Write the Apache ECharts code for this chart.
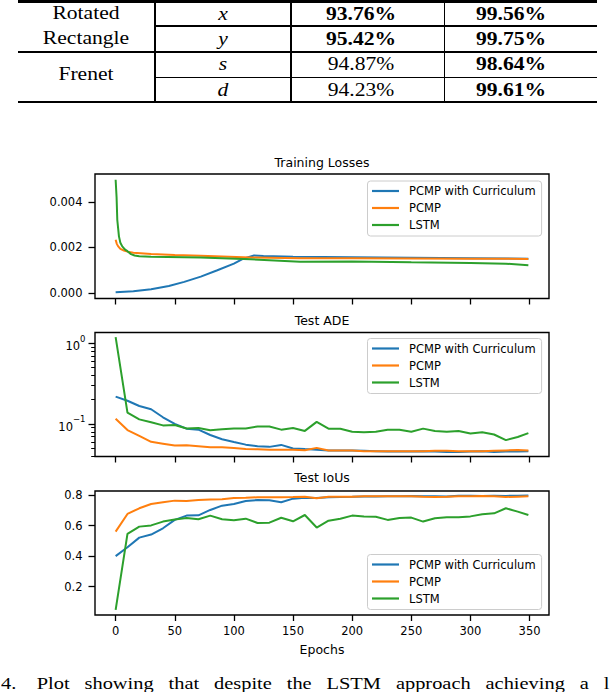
<!DOCTYPE html>
<html>
<head>
<meta charset="utf-8">
<script src="https://cdn.jsdelivr.net/npm/echarts@6/dist/echarts.min.js"></script>
<style>
html,body{margin:0;padding:0;background:#fff;}
#wrap{position:relative;width:610px;height:692px;overflow:hidden;background:#fff;}
#chart{position:absolute;left:0;top:0;width:610px;height:692px;}
#overlay{position:absolute;left:0;top:0;width:610px;height:692px;pointer-events:none;}
.ln{position:absolute;background:#000;}
.t{position:absolute;font-family:'Liberation Serif',serif;font-size:18px;line-height:18px;white-space:nowrap;transform:translateX(-50%) scaleX(1.2);transform-origin:50% 50%;color:#000;}
.b{font-weight:bold;}
.i{font-style:italic;}
#cap{position:absolute;left:1px;top:675px;width:507px;font-family:'Liberation Serif',serif;font-size:17px;line-height:17px;text-align:justify;text-align-last:justify;color:#000;transform:scaleX(1.2);transform-origin:0 50%;}
</style>
</head>
<body>
<div id="wrap">
  <div id="chart"></div>
  <div id="overlay"></div>
</div>
<script>
// ---------------- DATA ----------------
// Table (top of the page)
const tableGroups = [['Rotated', 'Rectangle'], ['Frenet']];
const tableAxes = ['x', 'y', 's', 'd'];
const tableColA = ['93.76%', '95.42%', '94.87%', '94.23%'];
const tableColABold = [true, true, false, false];
const tableColB = ['99.56%', '99.75%', '98.64%', '99.61%'];
const tableColBBold = [true, true, true, true];
const captionText = '4.\u2003Plot showing that despite the LSTM approach achieving a l';

// Chart
const seriesNames = ['PCMP with Curriculum', 'PCMP', 'LSTM'];
const seriesColors = ['#1f77b4', '#ff7f0e', '#2ca02c'];
const panelTitles = ['Training Losses', 'Test ADE', 'Test IoUs'];
const xAxisName = 'Epochs';
const xTicks = [0, 50, 100, 150, 200, 250, 300, 350];
const lossTicks = [0, 0.002, 0.004];
const adeMajorTicks = [0.1, 1];
const adeMinorTicks = [0.04, 0.05, 0.06, 0.07, 0.08, 0.09, 0.2, 0.3, 0.4, 0.5, 0.6, 0.7, 0.8, 0.9];
const iouTicks = [0.2, 0.4, 0.6, 0.8];

// Training losses: [epoch, loss]
const lossCurriculum = [[0,0.00002],[15,0.00007],[30,0.00016],[45,0.0003],[58,0.00048],[72,0.00071],[86,0.00099],[100,0.00128],[108,0.0015],[117,0.00164],[125,0.00162],[150,0.00158],[200,0.00156],[250,0.00154],[300,0.00152],[349,0.0015]];
const lossPCMP = [[0,0.00233],[1,0.00215],[2,0.00205],[4,0.00193],[7,0.00186],[10,0.00181],[15,0.00176],[30,0.0017],[50,0.00166],[72,0.00163],[114,0.00155],[156,0.00152],[200,0.00152],[250,0.00151],[300,0.0015],[349,0.00149]];
const lossLSTM = [[0,0.00497],[0.8,0.0042],[1.4,0.0032],[2.8,0.00248],[4,0.0022],[5.6,0.00204],[8,0.0019],[10,0.00183],[13,0.0017],[16,0.00164],[20,0.00161],[30,0.00158],[72,0.00155],[114,0.00147],[156,0.00137],[200,0.00138],[250,0.00134],[300,0.00131],[330,0.00128],[349,0.00121]];

// Test evaluations
const testEpochs = [0,10,20,30,40,50,60,70,80,90,100,110,120,130,140,150,160,170,180,190,200,210,220,230,240,250,260,270,280,290,300,310,320,330,340,349];
const adeCurriculum = [0.218,0.194,0.167,0.152,0.121,0.100,0.0875,0.085,0.073,0.0646,0.0598,0.0554,0.053,0.052,0.055,0.0497,0.0488,0.048,0.047,0.047,0.047,0.0465,0.046,0.0455,0.0455,0.0455,0.046,0.0455,0.045,0.045,0.0455,0.046,0.045,0.0455,0.0455,0.046];
const adePCMP = [0.116,0.084,0.071,0.060,0.057,0.054,0.0543,0.053,0.0514,0.0514,0.0504,0.049,0.0486,0.048,0.048,0.048,0.0472,0.0505,0.047,0.047,0.047,0.046,0.046,0.046,0.046,0.046,0.046,0.0465,0.0465,0.046,0.046,0.046,0.0465,0.047,0.0475,0.047];
const adeLSTM = [1.19,0.138,0.114,0.105,0.096,0.097,0.088,0.089,0.0835,0.086,0.088,0.088,0.093,0.093,0.085,0.089,0.082,0.106,0.0875,0.087,0.080,0.079,0.080,0.085,0.085,0.080,0.0875,0.082,0.080,0.082,0.076,0.079,0.074,0.063,0.069,0.077];
const iouCurriculum = [0.40,0.458,0.521,0.541,0.582,0.637,0.665,0.667,0.702,0.730,0.741,0.761,0.767,0.766,0.752,0.776,0.782,0.780,0.785,0.787,0.788,0.790,0.790,0.791,0.792,0.793,0.792,0.792,0.790,0.795,0.795,0.794,0.795,0.794,0.795,0.796];
const iouPCMP = [0.56,0.676,0.713,0.741,0.752,0.763,0.761,0.767,0.771,0.772,0.780,0.782,0.785,0.785,0.785,0.786,0.789,0.778,0.789,0.788,0.788,0.791,0.791,0.791,0.791,0.792,0.788,0.786,0.788,0.791,0.792,0.793,0.791,0.787,0.789,0.791];
const iouLSTM = [0.048,0.545,0.593,0.601,0.626,0.639,0.650,0.641,0.665,0.641,0.635,0.645,0.617,0.619,0.651,0.628,0.669,0.587,0.632,0.645,0.665,0.660,0.658,0.637,0.650,0.652,0.626,0.648,0.654,0.654,0.660,0.674,0.680,0.713,0.691,0.669];

// ---------------- TABLE + CAPTION (HTML text) ----------------
const ov = document.getElementById('overlay');
function line(l, t, w, h) {
  const d = document.createElement('div');
  d.className = 'ln';
  d.style.left = l + 'px'; d.style.top = t + 'px';
  d.style.width = w + 'px'; d.style.height = h + 'px';
  ov.appendChild(d);
}
function txt(s, cx, baseline, cls) {
  const d = document.createElement('div');
  d.className = 't ' + (cls || '');
  d.textContent = s;
  d.style.left = cx + 'px';
  d.style.top = (baseline - 15.1) + 'px';
  ov.appendChild(d);
}
// rules
line(18, 0, 579, 3);
line(155, 25.4, 442, 1.3);
line(18, 50.5, 579, 2.6);
line(155, 76.7, 442, 1.3);
line(18, 100.5, 579, 2.6);
line(154.4, 0, 1.3, 102);
line(289.5, 0, 2.6, 102);
line(444, 0, 1.3, 102);
// cells
const rowBase = [19.6, 44.8, 70.2, 95.6];
txt(tableGroups[0][0], 86, 19.4);
txt(tableGroups[0][1], 86, 44.4);
txt(tableGroups[1][0], 86, 80.5);
tableAxes.forEach((a, i) => txt(a, 223, rowBase[i], 'i'));
tableColA.forEach((v, i) => txt(v, 361, rowBase[i], tableColABold[i] ? 'b' : ''));
tableColB.forEach((v, i) => txt(v, 511, rowBase[i], tableColBBold[i] ? 'b' : ''));
const cap = document.createElement('div');
cap.id = 'cap';
cap.textContent = captionText;
ov.appendChild(cap);

// ---------------- CHART ----------------
const FONT = 'DejaVu Sans';
const chart = echarts.init(document.getElementById('chart'), null, {renderer: 'svg', width: 610, height: 692});

const gridBase = {left: 95, width: 454, show: true, borderColor: '#000', borderWidth: 1.4,
  backgroundColor: 'transparent', containLabel: false, outerBoundsMode: 'none'};
const grids = [
  Object.assign({top: 174, height: 124.5}, gridBase),
  Object.assign({top: 332.5, height: 124}, gridBase),
  Object.assign({top: 491, height: 124}, gridBase)
];

const tickLine = {color: '#000', width: 1.3};
const labelStyle = {fontFamily: FONT, fontSize: 11.5, color: '#000'};

const xAxes = [0, 1, 2].map(i => ({
  gridIndex: i, type: 'value', position: 'bottom', min: -17.45, max: 366.45,
  axisLine: {show: false, onZero: false},
  splitLine: {show: false},
  axisTick: {show: true, length: 6, customValues: xTicks, lineStyle: tickLine},
  axisLabel: Object.assign({show: i === 2, customValues: xTicks, margin: 10}, labelStyle)
}));

const yAxes = [
  {gridIndex: 0, type: 'value', position: 'left', min: -0.00025, max: 0.00522,
   axisLine: {show: false, onZero: false}, splitLine: {show: false},
   axisTick: {show: true, length: 6.5, customValues: lossTicks, lineStyle: tickLine},
   axisLabel: Object.assign({customValues: lossTicks, margin: 12.5, formatter: v => v.toFixed(3)}, labelStyle)},
  {gridIndex: 1, type: 'log', logBase: 10, position: 'left', min: 0.0395, max: 1.36,
   axisLine: {show: false, onZero: false}, splitLine: {show: false}, minorTick: {show: false},
   axisTick: {show: true, length: 6.5, customValues: adeMajorTicks, lineStyle: tickLine},
   axisLabel: Object.assign({customValues: adeMajorTicks, margin: 9.5,
     formatter: v => (v > 0.5 ? '{b|10}{s|0}' : '{b|10}{s|\u22121}'),
     rich: {
       b: {fontFamily: FONT, fontSize: 11.5, color: '#000', lineHeight: 18, verticalAlign: 'bottom'},
       s: {fontFamily: FONT, fontSize: 8.5, color: '#000', lineHeight: 8, verticalAlign: 'top'}
     }}, labelStyle)},
  {gridIndex: 1, type: 'log', logBase: 10, position: 'left', offset: 0, min: 0.0395, max: 1.36,
   axisLine: {show: false, onZero: false}, splitLine: {show: false}, minorTick: {show: false},
   axisTick: {show: true, length: 3.8, customValues: adeMinorTicks, lineStyle: {color: '#000', width: 1}},
   axisLabel: {show: false}},
  {gridIndex: 2, type: 'value', position: 'left', min: 0.015, max: 0.826,
   axisLine: {show: false, onZero: false}, splitLine: {show: false},
   axisTick: {show: true, length: 6.5, customValues: iouTicks, lineStyle: tickLine},
   axisLabel: Object.assign({customValues: iouTicks, margin: 12.5, formatter: v => v.toFixed(1)}, labelStyle)}
];

function pair(vals) { return testEpochs.map((e, i) => [e, vals[i]]); }
function mk(name, idx, xi, yi, data) {
  return {name: name, type: 'line', xAxisIndex: xi, yAxisIndex: yi, data: data,
    showSymbol: false, symbol: 'none', silent: true, clip: true,
    lineStyle: {width: 2, color: seriesColors[idx]}, itemStyle: {color: seriesColors[idx]}};
}
const series = [
  mk(seriesNames[0], 0, 0, 0, lossCurriculum),
  mk(seriesNames[1], 1, 0, 0, lossPCMP),
  mk(seriesNames[2], 2, 0, 0, lossLSTM),
  mk(seriesNames[0], 0, 1, 1, pair(adeCurriculum)),
  mk(seriesNames[1], 1, 1, 1, pair(adePCMP)),
  mk(seriesNames[2], 2, 1, 1, pair(adeLSTM)),
  mk(seriesNames[0], 0, 2, 3, pair(iouCurriculum)),
  mk(seriesNames[1], 1, 2, 3, pair(iouPCMP)),
  mk(seriesNames[2], 2, 2, 3, pair(iouLSTM))
];

function legendAt(top) {
  return {orient: 'vertical', left: 367.5, top: top, itemWidth: 27, itemHeight: 2.2, itemGap: 3,
    icon: 'rect', padding: [3, 6, 4, 4.5], borderColor: '#cccccc', borderWidth: 1, borderRadius: 3,
    backgroundColor: 'rgba(255,255,255,0.8)', selectedMode: false, data: seriesNames,
    textStyle: {fontFamily: FONT, fontSize: 11.5, lineHeight: 14, color: '#000', padding: [0, 0, 0, 5]}};
}

const titleStyle = {fontFamily: FONT, fontSize: 12.5, fill: '#000', textAlign: 'center', textVerticalAlign: 'middle'};
const graphic = [
  {type: 'text', x: 322, y: 162, style: Object.assign({text: panelTitles[0]}, titleStyle)},
  {type: 'text', x: 322, y: 320, style: Object.assign({text: panelTitles[1]}, titleStyle)},
  {type: 'text', x: 322, y: 477.5, style: Object.assign({text: panelTitles[2]}, titleStyle)},
  {type: 'text', x: 322, y: 649.5, style: Object.assign({text: xAxisName}, titleStyle)}
];

chart.setOption({
  animation: false,
  backgroundColor: '#fff',
  grid: grids,
  xAxis: xAxes,
  yAxis: yAxes,
  legend: [legendAt(181), legendAt(338.5), legendAt(554.5)],
  graphic: graphic,
  series: series
});
</script>
</body>
</html>
